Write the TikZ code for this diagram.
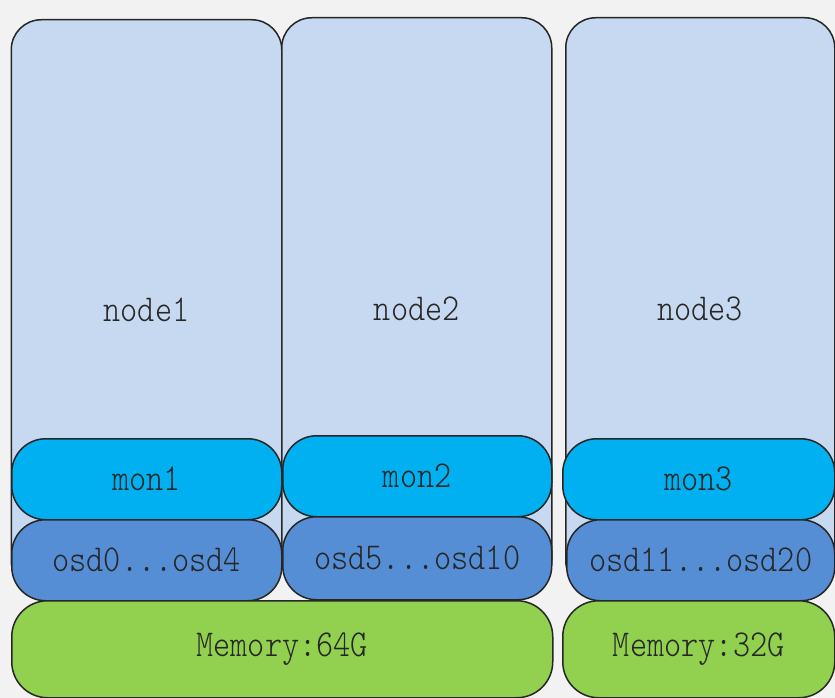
\documentclass[tikz,border=0pt]{standalone}
\usepackage{fontspec}
\newfontfamily\labelfont{lmmonolt10-regular.otf}[FakeStretch=0.86]
\definecolor{hostfill}{HTML}{C6D9F1}
\definecolor{monfill}{HTML}{00B0F0}
\definecolor{osdfill}{HTML}{558ED5}
\definecolor{memfill}{HTML}{92D050}
\definecolor{edge}{HTML}{262626}
\definecolor{paper}{HTML}{F2F2F2}
\begin{document}
\begin{tikzpicture}[x=1pt,y=-1pt,
    every node/.style={draw=edge, line width=1.5pt, rectangle, inner sep=0pt, anchor=north west,
      font=\labelfont\fontsize{38}{40}\selectfont, text=black!85},
    host/.style={fill=hostfill, rounded corners=30pt},
    hostname/.style={draw=none, anchor=center, yshift=-5pt},
    mon/.style={fill=monfill, rounded corners=34pt},
    osd/.style={fill=osdfill, rounded corners=34pt},
    mem/.style={fill=memfill, rounded corners=36pt}]
      \fill[paper] (0,0) rectangle (835,698);
      \useasboundingbox (0,0) rectangle (835,698);
      % hosts
      \node[host, minimum width=270.5pt, minimum height=571pt, label={[hostname]center:node1}] (node1) at (10.5,19) {};
      \node[host, minimum width=270pt, minimum height=572pt, label={[hostname]center:node2}] (node2) at (281,17) {};
      \node[host, minimum width=269pt, minimum height=573pt, label={[hostname]center:node3}] (node3) at (565,17) {};
      % monitors
      \node[mon, minimum width=270pt, minimum height=81pt] (mon1) at (11,438) {mon1};
      \node[mon, minimum width=269pt, minimum height=81pt] (mon2) at (282,435) {mon2};
      \node[mon, minimum width=272pt, minimum height=81pt] (mon3) at (562,438) {mon3};
      % osds
      \node[osd, minimum width=270pt, minimum height=81pt] (osd1) at (11,519) {osd0...osd4};
      \node[osd, minimum width=269pt, minimum height=83pt] (osd2) at (282,516) {osd5...osd10};
      \node[osd, minimum width=268pt, minimum height=81pt] (osd3) at (566,519) {osd11...osd20};
      % memory
      \node[mem, minimum width=541pt, minimum height=97pt] (mem64) at (11,600) {Memory:64G};
      \node[mem, minimum width=272pt, minimum height=97pt] (mem32) at (562,600) {Memory:32G};
\end{tikzpicture}
\end{document}
